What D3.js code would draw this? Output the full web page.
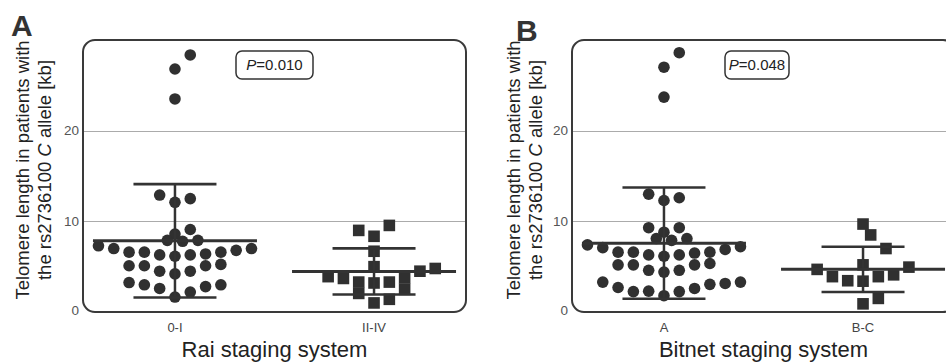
<!DOCTYPE html>
<html>
<head>
    <meta charset="utf-8">
    <title>telomere length by stage</title>
    <style>
        body { margin: 0; background: #fff; }
        svg { font-family: "Liberation Sans", Arial, sans-serif; }
        .box { fill: none; stroke: #3a3a3a; stroke-width: 2px; }
        .grid { stroke: #ababab; stroke-width: 1px; }
        .tick { font-size: 13.5px; fill: #555; }
        .cat { font-size: 13px; fill: #444; }
        .xtitle { font-size: 22px; fill: #222; }
        .ytitle { font-size: 18.5px; fill: #222; }
        .stat { stroke: #333; }
        .pbox rect { fill: #fff; stroke: #333; stroke-width: 1.5px; }
        .pbox text { font-size: 15px; fill: #222; }
        .letter { font-size: 30px; font-weight: bold; fill: #333; }
        .dot { fill: #303030; }
    </style>
</head>
<body>
<script src="https://cdn.jsdelivr.net/npm/d3@7"></script>
<script>
    // values in kb (entry order within each row)
    var raiCategories = ["0-I", "II-IV"];
    var raiEarly = [1.65, 2.2, 2.6, 2.8, 3.0, 3.0, 3.25,
        4.2, 4.5, 4.5, 5.1, 5.1, 5.25, 5.1,
        6.15, 6.3, 6.3, 6.4, 6.6, 6.6, 6.6, 6.8, 7.0, 7.0, 7.3,
        7.8, 7.9, 7.9,
        8.6, 9.1,
        12.1, 12.5, 12.9,
        23.5, 26.8, 28.35];
    var raiLate = [1.0, 1.4, 2.05, 2.5,
        3.2, 3.3, 3.3, 3.75, 3.7, 4.5, 3.9, 4.8,
        5.0, 6.7,
        8.35, 9.55, 9.0];

    var binetCategories = ["A", "B-C"];
    var binetA = [1.8, 2.25, 2.3, 2.6, 2.25, 3.05, 2.7, 3.15, 3.3, 3.3,
        4.4, 4.6, 4.6, 5.2, 5.2, 5.35, 5.2,
        6.15, 6.3, 6.3, 6.5, 6.6, 6.6, 6.6, 6.9, 7.1, 7.2, 7.4,
        7.9, 8.1, 8.1,
        8.8, 9.3, 9.3,
        12.3, 12.6, 13.0,
        23.7, 27.0, 28.6];
    var binetBC = [0.9, 1.5,
        3.4, 3.9, 3.45, 4.1, 3.9, 4.95, 4.7,
        5.2, 8.5, 7.0, 9.7];

    var yTicks = [0, 10, 20];
    var pValues = ["0.010", "0.048"];

    var width = 946, height = 362;
    var boxW = 383, plotTop = 40, plotBottom = 312;
    var step = 15.3;

    var svg = d3.select("body").append("svg")
        .attr("width", width)
        .attr("height", height);

    var y = d3.scaleLinear().domain([0, 30]).range([plotBottom, plotTop]);

    var panels = [
        {letter: "A", lx: 11, ly: 36, left: 83, cats: raiCategories, groups: [raiEarly, raiLate],
            title: "Rai staging system", p: pValues[0], pbox: [236, 51, 77, 28], yt: 23},
        {letter: "B", lx: 516, ly: 41, left: 572, cats: binetCategories, groups: [binetA, binetBC],
            title: "Bitnet staging system", p: pValues[1], pbox: [725, 51, 64, 28], yt: 514}
    ];

    // column scatter layout: rows of points spread round the centre
    function swarm(values, cx) {
        var order = d3.range(values.length).sort(function (a, b) { return values[a] - values[b]; });
        var bins = [], cur = null;
        order.forEach(function (i) {
            var v = values[i];
            if (cur) {
                var start = values[cur[0]], prev = values[cur[cur.length - 1]];
                if (v - start > 1.62 || (cur.length >= 3 && v - prev > 0.65)) cur = null;
            }
            if (!cur) { cur = []; bins.push(cur); }
            cur.push(i);
        });
        var pts = [];
        bins.reverse().forEach(function (bin) {
            bin.sort(d3.ascending);
            var row = bin.map(function (i, k) {
                var slot = k === 0 ? 0 : (k % 2 ? (k + 1) / 2 : -k / 2);
                return {v: values[i], x: cx + slot * step, y: y(values[i])};
            });
            var hit = row.some(function (p) {
                return pts.some(function (q) { return Math.hypot(p.x - q.x, p.y - q.y) < 11.1; });
            });
            if (hit) row.forEach(function (p) { p.x += step / 2; });
            pts = pts.concat(row);
        });
        return pts;
    }

    panels.forEach(function (pn) {
        var g = svg.append("g");
        var right = pn.left + boxW;
        var x = d3.scalePoint().domain(pn.cats).range([pn.left, right]).padding(0.462);

        // grid lines
        g.selectAll("line.grid")
            .data(yTicks.filter(function (d) { return d > 0; }))
            .enter().append("line")
            .attr("class", "grid")
            .attr("x1", pn.left).attr("x2", right)
            .attr("y1", function (d) { return Math.round(y(d)) + 0.5; })
            .attr("y2", function (d) { return Math.round(y(d)) + 0.5; });

        g.append("rect")
            .attr("class", "box")
            .attr("x", pn.left).attr("y", plotTop)
            .attr("width", boxW).attr("height", plotBottom - plotTop)
            .attr("rx", 12).attr("ry", 12);

        // tick labels
        g.selectAll("text.tick")
            .data(yTicks)
            .enter().append("text")
            .attr("class", "tick")
            .attr("x", pn.left - 4)
            .attr("y", function (d) { return y(d) - (d === 0 ? 2 : 0); })
            .attr("dy", "0.35em")
            .attr("text-anchor", "end")
            .text(function (d) { return d; });

        g.selectAll("text.cat")
            .data(pn.cats)
            .enter().append("text")
            .attr("class", "cat")
            .attr("x", function (d) { return x(d); })
            .attr("y", 332)
            .attr("text-anchor", "middle")
            .text(function (d) { return d; });

        g.append("text")
            .attr("class", "xtitle")
            .attr("x", (pn.left + right) / 2)
            .attr("y", 357)
            .attr("text-anchor", "middle")
            .text(pn.title);

        // y title, two lines
        g.append("text")
            .attr("class", "ytitle")
            .attr("transform", "translate(" + (pn.yt + 6) + ",170) rotate(-90)")
            .attr("text-anchor", "middle")
            .text("Telomere length in patients with");
        var t2 = g.append("text")
            .attr("class", "ytitle")
            .attr("transform", "translate(" + (pn.yt + 28) + ",170) rotate(-90)")
            .attr("text-anchor", "middle");
        t2.append("tspan").text("the rs2736100 ");
        t2.append("tspan").style("font-style", "italic").text("C");
        t2.append("tspan").text(" allele [kb]");

        g.append("text")
            .attr("class", "letter")
            .attr("x", pn.lx).attr("y", pn.ly)
            .text(pn.letter);

        // p value label
        var pb = g.append("g").attr("class", "pbox");
        pb.append("rect")
            .attr("x", pn.pbox[0]).attr("y", pn.pbox[1])
            .attr("width", pn.pbox[2]).attr("height", pn.pbox[3])
            .attr("rx", 6).attr("ry", 6);
        var pt = pb.append("text")
            .attr("x", pn.pbox[0] + pn.pbox[2] / 2)
            .attr("y", pn.pbox[1] + pn.pbox[3] / 2)
            .attr("dy", "0.35em")
            .attr("text-anchor", "middle");
        pt.append("tspan").style("font-style", "italic").text("P");
        pt.append("tspan").text("=" + pn.p);

        pn.groups.forEach(function (vals, gi) {
            var cx = x(pn.cats[gi]);
            var pts = swarm(vals, cx);
            if (gi === 0) {
                g.selectAll(null).data(pts).enter().append("circle")
                    .attr("class", "dot")
                    .attr("cx", function (d) { return d.x; })
                    .attr("cy", function (d) { return d.y; })
                    .attr("r", 5.8);
            } else {
                g.selectAll(null).data(pts).enter().append("rect")
                    .attr("class", "dot")
                    .attr("x", function (d) { return d.x - 5.8; })
                    .attr("y", function (d) { return d.y - 5.8; })
                    .attr("width", 11.6).attr("height", 11.6);
            }

            // mean with SD
            var m = d3.mean(vals), sd = d3.deviation(vals);
            g.append("line").attr("class", "stat")
                .attr("x1", cx).attr("x2", cx)
                .attr("y1", y(m - sd)).attr("y2", y(m + sd))
                .style("stroke-width", 2.5);
            g.append("line").attr("class", "stat")
                .attr("x1", cx - 82).attr("x2", cx + 82)
                .attr("y1", y(m)).attr("y2", y(m))
                .style("stroke-width", 3);
            [m - sd, m + sd].forEach(function (v) {
                g.append("line").attr("class", "stat")
                    .attr("x1", cx - 41.5).attr("x2", cx + 41.5)
                    .attr("y1", y(v)).attr("y2", y(v))
                    .style("stroke-width", 2.6);
            });
        });
    });
</script>
</body>
</html>
